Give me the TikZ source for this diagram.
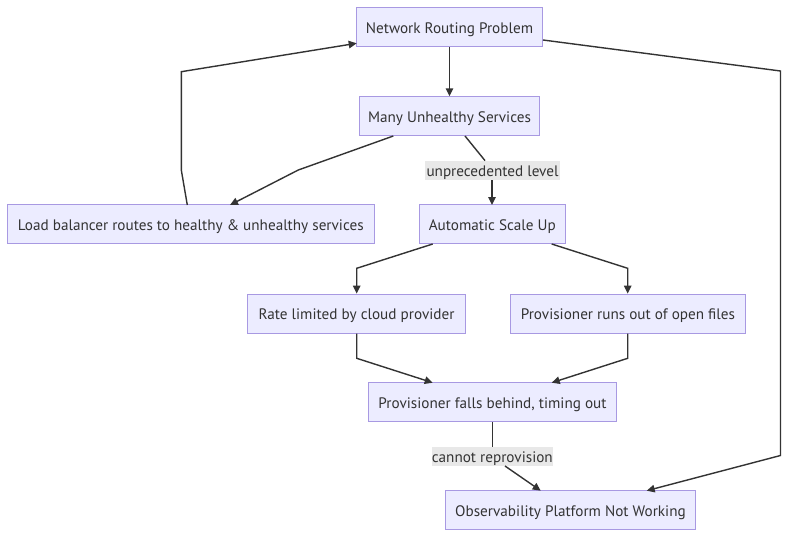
\documentclass[tikz,border=0pt]{standalone}
\usepackage{fontspec}
\setmainfont{PT Sans}
\usetikzlibrary{arrows.meta}
\definecolor{boxfill}{HTML}{ECECFF}
\definecolor{boxline}{HTML}{A899E2}
\definecolor{edge}{HTML}{333333}
\definecolor{lblbg}{HTML}{E8E8E8}
\tikzset{
  box/.style={draw=boxline, fill=boxfill, line width=1pt, inner sep=0pt,
    minimum height=39pt, text height=12pt, text depth=0pt, text=edge,
    font=\fontsize{15.2}{18}\selectfont, anchor=center},
  lbl/.style={fill=lblbg, inner sep=0pt, text=edge, minimum height=19pt,
    text height=12pt, text depth=0pt,
    font=\fontsize{15.2}{18}\selectfont, anchor=center},
  link/.style={draw=edge, line width=1.4pt, -{Triangle[length=8pt,width=7.5pt]}},
  plain/.style={draw=edge, line width=1.4pt}
}
\begin{document}
\begin{tikzpicture}[x=1pt,y=-1pt]
\useasboundingbox (0,0) rectangle (788,538);
\fill[white] (0,0) rectangle (788,538);

\node[box, minimum width=186pt] (nrp) at (449.5,27.3) {Network Routing Problem};
\node[box, minimum width=180pt] (many) at (449.5,116.3) {Many Unhealthy Services};
\node[box, minimum width=367pt] (load) at (190.8,224.2) {Load balancer routes to healthy \& unhealthy services};
\node[box, minimum width=146pt] (auto) at (492.3,224.3) {Automatic Scale Up};
\node[box, minimum width=218.4pt] (rate) at (356.5,313.6) {Rate limited by cloud provider};
\node[box, minimum width=235.7pt] (prov) at (627.9,313.6) {Provisioner runs out of open files};
\node[box, minimum width=248.4pt] (falls) at (492.5,402.3) {Provisioner falls behind, timing out};
\node[box, minimum width=249.6pt] (obs) at (570.5,510.3) {Observability Platform Not Working};

% edges
\draw[link] (nrp.south) -- (nrp.south |- many.north);

\coordinate (m1) at (465,136);
\coordinate (a1) at (492,205);
\node[lbl, minimum width=135pt] (l1) at (492.5,170.3) {unprecedented level};
\draw[plain] (m1) -- (l1.north -| 485,0);
\draw[link] (l1.south -| a1) -- (a1);

\coordinate (m2) at (393.3,136);
\coordinate (lbtop) at (230,205);
\draw[link] (m2) -- (298.3,170) -- (lbtop);

\coordinate (lb2) at (187.3,205);
\coordinate (nl) at (356.7,43.3);
\draw[link] (lb2) -- (181.3,170) -- (181.3,71.7) -- (nl);

\coordinate (au1) at (432.7,244);
\coordinate (au2) at (551.7,244);
\draw[link] (au1) -- (356.7,268.3) -- (rate.north -| 356.7,0);
\draw[link] (au2) -- (627.7,268.3) -- (prov.north -| 627.7,0);

\coordinate (f1) at (432.7,382.7);
\coordinate (f2) at (551.7,382.7);
\draw[link] (rate.south -| 356.7,0) -- (356.7,358.3) -- (f1);
\draw[link] (prov.south -| 627.7,0) -- (627.7,358.3) -- (f2);

\node[lbl, minimum width=120.7pt] (l2) at (492.3,456.5) {cannot reprovision};
\draw[plain] (falls.south -| l2.north) -- (l2.north);
\coordinate (o1) at (540.7,490.7);
\draw[link] (505,466) -- (o1);

\coordinate (n2) at (543,40);
\coordinate (o2) at (646.7,490.7);
\draw[link] (n2) -- (780.5,71) -- (780.5,455.5) -- (o2);
\end{tikzpicture}
\end{document}
